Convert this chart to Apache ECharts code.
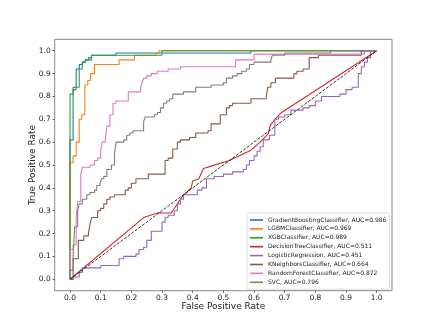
<!DOCTYPE html>
<html>
<head>
<meta charset="utf-8">
<script src="https://cdn.jsdelivr.net/npm/echarts@6/dist/echarts.min.js"></script>
<style>
  html, body { margin: 0; padding: 0; background: #fff; }
  #chart { width: 436px; height: 327px; }
</style>
</head>
<body>
<div id="chart"></div>
<script>
const tickValues = [0, 0.1, 0.2, 0.3, 0.4, 0.5, 0.6, 0.7, 0.8, 0.9, 1.0]

const modelNames = [
  'GradientBoostingClassifier, AUC=0.986',
  'LGBMClassifier, AUC=0.969',
  'XGBClassifier, AUC=0.989',
  'DecisionTreeClassifier, AUC=0.511',
  'LogisticRegression, AUC=0.451',
  'KNeighborsClassifier, AUC=0.664',
  'RandomForestClassifier, AUC=0.872',
  'SVC, AUC=0.796'
]
const colors = ['#1f77b4', '#ff7f0e', '#2ca02c', '#d62728', '#9467bd', '#8c564b', '#e377c2', '#7f7f7f']

// roc points [fpr, tpr]
const gbRoc = [[0,0],[0,0.61],[0.01,0.61],[0.01,0.84],[0.02,0.84],[0.02,0.92],[0.03,0.92],[0.03,0.94],[0.04,0.94],[0.04,0.95],[0.05,0.95],[0.05,0.96],[0.07,0.96],[0.07,0.98],[0.15,0.98],[0.15,0.99],[0.59,0.99],[0.59,1],[1,1]]
const lgbmRoc = [[0,0],[0,0.51],[0.01,0.51],[0.01,0.54],[0.02,0.54],[0.02,0.60],[0.03,0.60],[0.03,0.70],[0.038,0.70],[0.038,0.72],[0.048,0.72],[0.048,0.85],[0.058,0.85],[0.058,0.87],[0.067,0.87],[0.067,0.90],[0.08,0.90],[0.08,0.94],[0.16,0.94],[0.16,0.96],[0.21,0.96],[0.21,0.98],[0.28,0.98],[0.28,0.99],[0.29,0.99],[0.29,1],[1,1]]
const xgbRoc = [[0,0],[0,0.81],[0.01,0.81],[0.01,0.83],[0.02,0.83],[0.02,0.84],[0.03,0.84],[0.03,0.92],[0.04,0.92],[0.04,0.95],[0.05,0.95],[0.05,0.96],[0.06,0.96],[0.06,0.97],[0.07,0.97],[0.07,0.98],[0.30,0.98],[0.30,1],[1,1]]
const dtRoc = [[0,0],[0.24,0.27],[0.285,0.29],[0.33,0.29],[0.365,0.36],[0.395,0.40],[0.40,0.43],[0.42,0.44],[0.435,0.485],[0.46,0.495],[0.52,0.52],[0.59,0.565],[0.62,0.60],[0.647,0.638],[0.652,0.67],[0.668,0.70],[0.69,0.73],[1,1]]
const lrRoc = [[0,0],[0.01,0],[0.01,0.01],[0.03,0.01],[0.03,0.03],[0.04,0.03],[0.04,0.05],[0.10,0.05],[0.10,0.06],[0.16,0.06],[0.16,0.09],[0.175,0.09],[0.175,0.10],[0.215,0.10],[0.215,0.11],[0.225,0.11],[0.225,0.13],[0.24,0.13],[0.24,0.14],[0.25,0.14],[0.25,0.17],[0.265,0.17],[0.265,0.21],[0.30,0.21],[0.30,0.25],[0.31,0.25],[0.31,0.27],[0.32,0.27],[0.32,0.28],[0.34,0.28],[0.34,0.30],[0.35,0.30],[0.35,0.33],[0.36,0.33],[0.36,0.35],[0.37,0.35],[0.37,0.37],[0.415,0.37],[0.415,0.39],[0.43,0.39],[0.43,0.40],[0.445,0.40],[0.445,0.44],[0.47,0.44],[0.47,0.45],[0.50,0.45],[0.50,0.46],[0.53,0.46],[0.53,0.47],[0.565,0.47],[0.565,0.48],[0.575,0.48],[0.575,0.50],[0.585,0.50],[0.585,0.52],[0.60,0.52],[0.60,0.54],[0.61,0.54],[0.61,0.56],[0.62,0.56],[0.62,0.58],[0.63,0.58],[0.63,0.61],[0.65,0.61],[0.65,0.63],[0.668,0.63],[0.668,0.70],[0.68,0.70],[0.68,0.71],[0.70,0.71],[0.70,0.72],[0.72,0.72],[0.72,0.74],[0.76,0.74],[0.76,0.75],[0.78,0.75],[0.78,0.76],[0.80,0.76],[0.80,0.78],[0.82,0.78],[0.82,0.80],[0.88,0.80],[0.88,0.81],[0.90,0.81],[0.90,0.83],[0.92,0.83],[0.92,0.84],[0.94,0.84],[0.94,0.90],[0.95,0.90],[0.95,0.93],[0.96,0.93],[0.96,0.95],[0.97,0.95],[0.97,0.97],[0.98,0.97],[0.98,1],[1,1]]
const knRoc = [[0,0],[0.01,0],[0.01,0.09],[0.027,0.09],[0.027,0.17],[0.045,0.17],[0.045,0.19],[0.06,0.19],[0.06,0.20],[0.065,0.20],[0.065,0.24],[0.07,0.24],[0.07,0.27],[0.09,0.27],[0.09,0.30],[0.10,0.30],[0.10,0.31],[0.11,0.31],[0.11,0.33],[0.12,0.33],[0.12,0.35],[0.13,0.35],[0.13,0.36],[0.145,0.36],[0.145,0.37],[0.18,0.37],[0.18,0.39],[0.19,0.39],[0.19,0.40],[0.20,0.40],[0.20,0.42],[0.215,0.42],[0.215,0.44],[0.255,0.44],[0.255,0.46],[0.31,0.46],[0.31,0.52],[0.32,0.52],[0.32,0.53],[0.335,0.53],[0.335,0.57],[0.35,0.57],[0.35,0.60],[0.36,0.60],[0.36,0.61],[0.39,0.61],[0.39,0.62],[0.41,0.62],[0.41,0.64],[0.45,0.64],[0.45,0.65],[0.46,0.65],[0.46,0.68],[0.49,0.68],[0.49,0.72],[0.51,0.72],[0.51,0.75],[0.52,0.75],[0.52,0.76],[0.53,0.76],[0.53,0.77],[0.59,0.77],[0.59,0.79],[0.64,0.79],[0.64,0.80],[0.645,0.80],[0.645,0.84],[0.655,0.84],[0.655,0.86],[0.67,0.86],[0.67,0.88],[0.73,0.88],[0.73,0.90],[0.74,0.90],[0.74,0.91],[0.76,0.91],[0.76,0.92],[0.78,0.92],[0.78,0.97],[0.81,0.97],[0.81,0.98],[0.95,0.98],[0.95,1],[1,1]]
const rfRoc = [[0,0],[0,0.13],[0.01,0.13],[0.01,0.15],[0.02,0.15],[0.02,0.27],[0.025,0.27],[0.025,0.34],[0.035,0.34],[0.035,0.46],[0.04,0.46],[0.04,0.49],[0.065,0.49],[0.065,0.50],[0.08,0.50],[0.08,0.52],[0.09,0.52],[0.09,0.53],[0.10,0.53],[0.10,0.56],[0.105,0.56],[0.105,0.60],[0.115,0.60],[0.115,0.61],[0.12,0.61],[0.12,0.67],[0.13,0.67],[0.13,0.72],[0.14,0.72],[0.14,0.77],[0.15,0.77],[0.15,0.78],[0.19,0.78],[0.19,0.82],[0.23,0.82],[0.23,0.84],[0.235,0.84],[0.235,0.86],[0.24,0.86],[0.24,0.88],[0.25,0.88],[0.25,0.89],[0.265,0.89],[0.265,0.90],[0.285,0.90],[0.285,0.91],[0.32,0.91],[0.32,0.92],[0.36,0.92],[0.36,0.93],[0.54,0.93],[0.54,0.96],[0.60,0.96],[0.60,0.985],[0.96,0.985],[0.96,1],[1,1]]
const svcRoc = [[0,0],[0,0.04],[0.01,0.04],[0.01,0.10],[0.015,0.10],[0.015,0.23],[0.025,0.23],[0.025,0.30],[0.03,0.30],[0.03,0.33],[0.04,0.33],[0.04,0.35],[0.055,0.35],[0.055,0.37],[0.065,0.37],[0.065,0.38],[0.08,0.38],[0.08,0.39],[0.087,0.39],[0.087,0.41],[0.098,0.41],[0.098,0.42],[0.103,0.42],[0.103,0.44],[0.11,0.44],[0.11,0.45],[0.12,0.45],[0.12,0.48],[0.135,0.48],[0.135,0.50],[0.145,0.50],[0.145,0.55],[0.15,0.55],[0.15,0.60],[0.175,0.60],[0.175,0.61],[0.185,0.61],[0.185,0.63],[0.195,0.63],[0.195,0.64],[0.205,0.64],[0.205,0.65],[0.24,0.65],[0.24,0.69],[0.245,0.69],[0.245,0.71],[0.275,0.71],[0.275,0.72],[0.285,0.72],[0.285,0.73],[0.295,0.73],[0.295,0.75],[0.305,0.75],[0.305,0.77],[0.315,0.77],[0.315,0.78],[0.325,0.78],[0.325,0.79],[0.335,0.79],[0.335,0.81],[0.37,0.81],[0.37,0.82],[0.41,0.82],[0.41,0.84],[0.46,0.84],[0.46,0.85],[0.50,0.85],[0.50,0.86],[0.51,0.86],[0.51,0.88],[0.53,0.88],[0.53,0.89],[0.545,0.89],[0.545,0.90],[0.56,0.90],[0.56,0.91],[0.575,0.91],[0.575,0.92],[0.585,0.92],[0.585,0.94],[0.60,0.94],[0.60,0.95],[0.655,0.95],[0.655,0.96],[0.66,0.96],[0.66,0.98],[0.70,0.98],[0.70,0.99],[0.85,0.99],[0.85,1],[1,1]]
const chanceLine = [[0,0],[1,1]]

const rocData = [gbRoc, lgbmRoc, xgbRoc, dtRoc, lrRoc, knRoc, rfRoc, svcRoc]

const chart = echarts.init(document.getElementById('chart'), null, { renderer: 'canvas' })

const axisText = { fontFamily: 'DejaVu Sans', fontSize: 7.5, color: '#222' }

const series = rocData.map((pts, i) => ({
  name: modelNames[i],
  type: 'line',
  data: pts,
  showSymbol: false,
  symbol: 'none',
  lineStyle: { color: colors[i], width: 1.1 },
  itemStyle: { color: colors[i] },
  animation: false
}))

series.push({
  name: 'chance',
  type: 'line',
  data: chanceLine,
  showSymbol: false,
  symbol: 'none',
  lineStyle: { color: '#000', width: 0.8, type: [3, 1.5] },
  animation: false
})

const option = {
  backgroundColor: '#fff',
  animation: false,
  grid: {
    left: 54.7, right: 44, top: 39.3, bottom: 36.3,
    show: true, borderColor: '#888', borderWidth: 1, backgroundColor: 'transparent'
  },
  legend: {
    data: modelNames,
    orient: 'vertical',
    left: 247, top: 213,
    padding: [3, 3, 3, 3],
    itemWidth: 13, itemHeight: 1.6,
    itemGap: 0.9,
    icon: 'rect',
    backgroundColor: '#fff',
    borderColor: '#d5d5d5', borderWidth: 0.8, borderRadius: 2,
    textStyle: { fontFamily: 'DejaVu Sans', fontSize: 6, color: '#222', lineHeight: 8 }
  },
  xAxis: {
    type: 'value', min: -0.05, max: 1.05,
    name: 'False Positive Rate', nameLocation: 'middle', nameGap: 11,
    nameMoveOverlap: false,
    nameTextStyle: { fontFamily: 'DejaVu Sans', fontSize: 9, color: '#222' },
    axisLine: { show: false, onZero: false },
    splitLine: { show: false },
    axisTick: { show: true, length: 2, customValues: tickValues, lineStyle: { color: '#555' } },
    axisLabel: Object.assign({ customValues: tickValues, margin: 3, formatter: v => v.toFixed(1) }, axisText)
  },
  yAxis: {
    type: 'value', min: -0.05, max: 1.05,
    name: 'True Positive Rate', nameLocation: 'middle', nameGap: 18,
    nameMoveOverlap: false,
    nameTextStyle: { fontFamily: 'DejaVu Sans', fontSize: 9, color: '#222' },
    axisLine: { show: false, onZero: false },
    splitLine: { show: false },
    axisTick: { show: true, length: 2, customValues: tickValues, lineStyle: { color: '#555' } },
    axisLabel: Object.assign({ customValues: tickValues, margin: 4, formatter: v => v.toFixed(1) }, axisText)
  },
  series: series
}

chart.setOption(option)
</script>
</body>
</html>
